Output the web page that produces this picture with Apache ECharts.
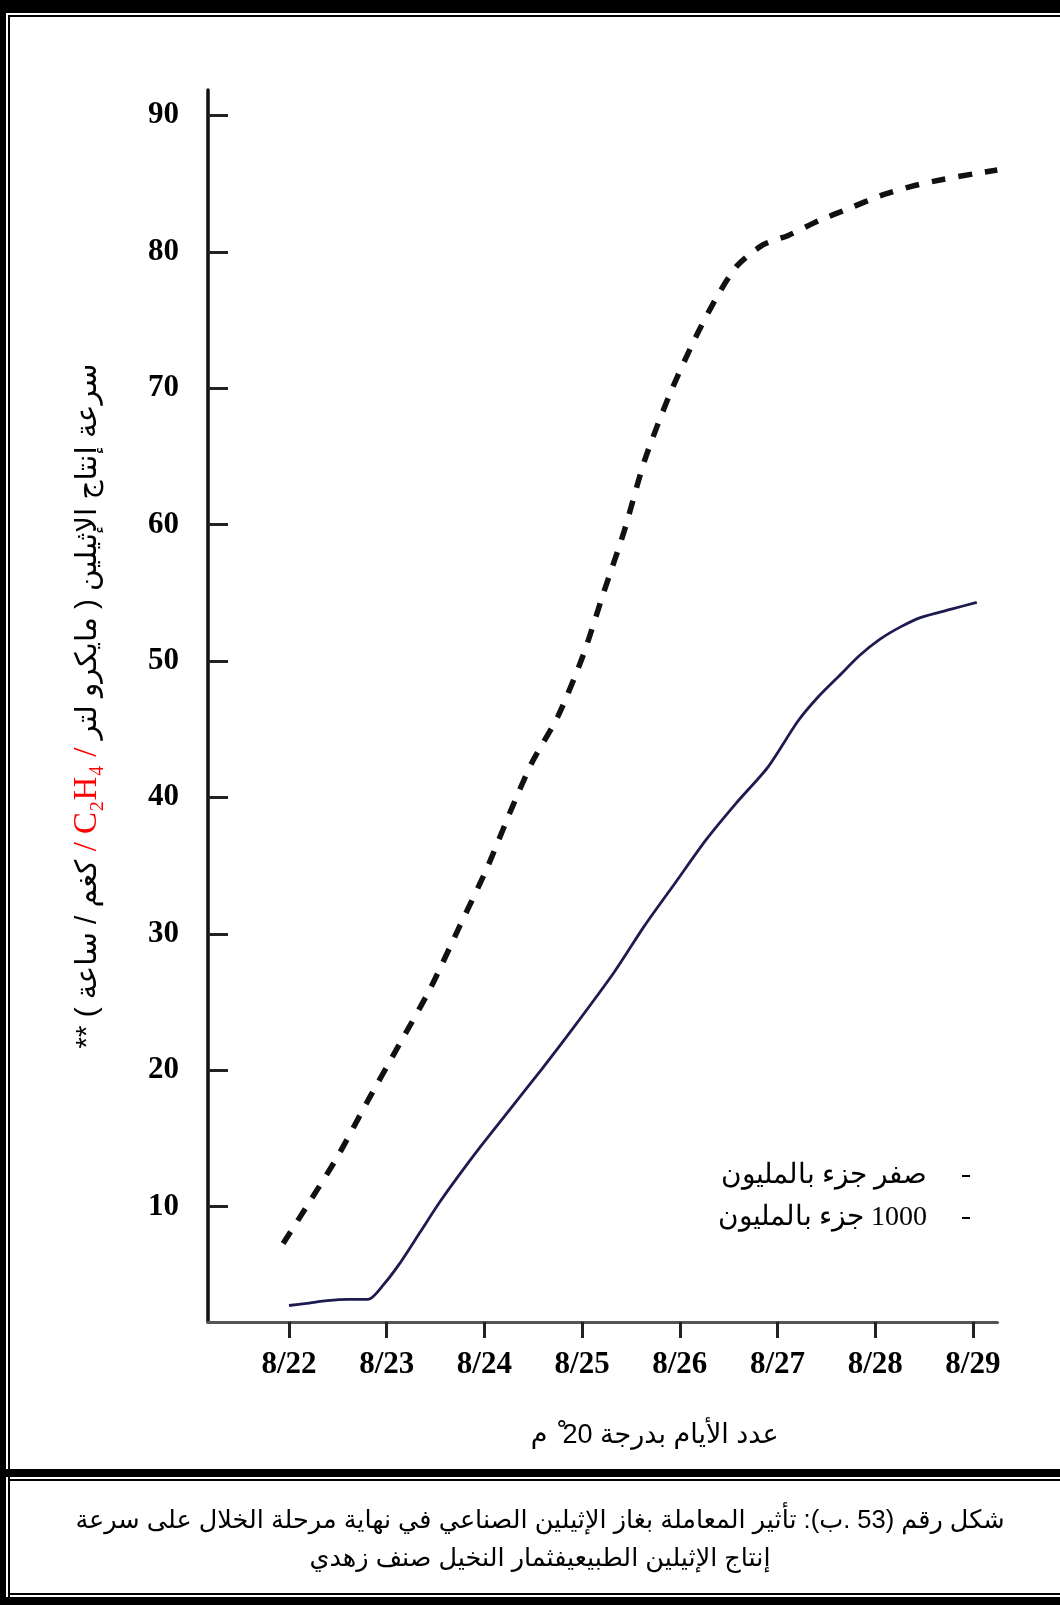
<!DOCTYPE html>
<html>
<head>
<meta charset="utf-8">
<script src="https://cdn.jsdelivr.net/npm/echarts@6/dist/echarts.min.js"></script>
<style>
html,body{margin:0;padding:0;background:#fff;}
#chart{width:1060px;height:1605px;}
</style>
</head>
<body>
<div id="chart"></div>
<script>
// ---- data ----
const xTickDays = [0, 1, 2, 3, 4, 5, 6, 7];
const xTickLabels = ['8/22', '8/23', '8/24', '8/25', '8/26', '8/27', '8/28', '8/29'];
const yTickValues = [10, 20, 30, 40, 50, 60, 70, 80, 90];

// 0 ppm (solid line)
const solidDays = [0.0, 0.18, 0.39, 0.6, 0.81, 0.97, 1.13, 1.34, 1.54, 1.75, 1.96, 2.28, 2.59, 2.91, 3.33, 3.64, 3.96, 4.27, 4.58, 4.9, 5.21, 5.42, 5.63, 5.84, 6.05, 6.26, 6.47, 6.78, 7.04];
const solidValues = [2.75, 2.9, 3.1, 3.2, 3.2, 4.3, 5.8, 8.1, 10.3, 12.4, 14.4, 17.3, 20.1, 23.1, 27.2, 30.6, 33.8, 36.9, 39.6, 42.2, 45.6, 47.4, 48.9, 50.4, 51.6, 52.5, 53.2, 53.8, 54.3];

// 1000 ppm (dashed line)
const dashedDays = [-0.06, 0.18, 0.5, 0.81, 1.13, 1.44, 1.75, 2.02, 2.28, 2.49, 2.75, 3.01, 3.22, 3.43, 3.64, 3.9, 4.16, 4.38, 4.59, 4.85, 5.11, 5.43, 5.74, 6.05, 6.37, 6.69, 7.0, 7.25];
const dashedValues = [7.3, 10.0, 13.7, 17.8, 21.9, 25.9, 30.6, 34.7, 39.2, 42.6, 45.9, 50.4, 55.0, 59.5, 64.7, 69.6, 73.7, 76.7, 79.0, 80.5, 81.2, 82.3, 83.2, 84.1, 84.8, 85.3, 85.7, 86.0];

// ---- text ----
const RLE = '\u202B', PDF = '\u202C';
const seriesNames = ['صفر جزء بالمليون', RLE + '1000 جزء بالمليون' + PDF];
const yNameLeft = RLE + 'كغم / ساعة ) **' + PDF;
const yNameRed = ' / C₂H₄ / ';
const yNameRight = RLE + 'سرعة إنتاج الإثيلين ( مايكرو لتر' + PDF;
const xName = RLE + 'عدد الأيام بدرجة 20 ْ م' + PDF;
const captionLines = [
  RLE + 'شكل رقم (53 .ب): تأثير المعاملة بغاز الإثيلين الصناعي في نهاية مرحلة الخلال على سرعة' + PDF,
  RLE + 'إنتاج الإثيلين الطبيعيفثمار النخيل صنف زهدي' + PDF
];

const arabicFont = "Arial, 'Liberation Sans', 'DejaVu Sans', 'Noto Sans', sans-serif";
const serifFont = "'Times New Roman', 'Liberation Serif', 'DejaVu Serif', serif";

const pairs = (xs, ys) => xs.map((x, i) => [x, ys[i]]);

const chart = echarts.init(document.getElementById('chart'), null, {renderer: 'canvas'});

const option = {
  backgroundColor: '#ffffff',
  animation: false,
  grid: {left: 208, right: 62.5, top: 90, bottom: 283},
  legend: {
    orient: 'vertical',
    right: 85,
    top: 1156,
    align: 'right',
    icon: 'rect',
    itemWidth: 8,
    itemHeight: 2,
    itemGap: 12,
    data: [
      {name: seriesNames[0], itemStyle: {color: '#000'}},
      {name: seriesNames[1], itemStyle: {color: '#000'}}
    ],
    textStyle: {fontSize: 28, fontFamily: serifFont, color: '#000', lineHeight: 30, padding: [0, 30, 0, 0]}
  },
  xAxis: {
    type: 'value',
    min: -0.829,
    max: 7.252,
    name: xName,
    nameLocation: 'middle',
    nameGap: 100,
    nameTextStyle: {fontSize: 27, fontFamily: arabicFont, color: '#000', padding: [0, 0, 0, 104]},
    axisLine: {show: true, onZero: false, lineStyle: {color: '#555', width: 3}},
    axisTick: {show: true, inside: false, length: 16, customValues: xTickDays, lineStyle: {color: '#222', width: 3}},
    axisLabel: {
      customValues: xTickDays,
      margin: 27,
      fontSize: 31,
      fontWeight: 'bold',
      fontFamily: serifFont,
      color: '#000',
      formatter: v => xTickLabels[xTickDays.indexOf(Math.round(v))] || ''
    },
    splitLine: {show: false}
  },
  yAxis: {
    type: 'value',
    min: 1.54,
    max: 91.86,
    name: '{a|' + yNameLeft + '}{r|' + yNameRed + '}{b|' + yNameRight + '}',
    nameLocation: 'middle',
    nameRotate: 90,
    nameGap: 104,
    nameTextStyle: {
      padding: [0, 0, 0, 0],
      rich: {
        a: {fontSize: 29.5, fontFamily: arabicFont, color: '#000'},
        r: {fontSize: 33, fontFamily: serifFont, color: '#ff0000'},
        b: {fontSize: 29.5, fontFamily: arabicFont, color: '#000'}
      }
    },
    axisLine: {show: true, onZero: false, lineStyle: {color: '#111', width: 3.5}},
    axisTick: {show: true, inside: true, length: 20, customValues: yTickValues, lineStyle: {color: '#222', width: 3}},
    axisLabel: {
      customValues: yTickValues,
      margin: 29,
      fontSize: 31,
      fontWeight: 'bold',
      fontFamily: serifFont,
      color: '#000'
    },
    splitLine: {show: false}
  },
  series: [
    {
      name: seriesNames[0],
      type: 'line',
      data: pairs(solidDays, solidValues),
      showSymbol: false,
      smooth: 0.25,
      color: '#1e1b50',
      lineStyle: {color: '#1e1b50', width: 2.8}
    },
    {
      name: seriesNames[1],
      type: 'line',
      data: pairs(dashedDays, dashedValues),
      showSymbol: false,
      smooth: 0.25,
      color: '#111',
      lineStyle: {color: '#111', width: 5.5, type: [14, 13], cap: 'butt'}
    }
  ],
  graphic: [
    {type: 'rect', shape: {x: 0, y: 0, width: 1060, height: 13}, style: {fill: '#000'}, silent: true},
    {type: 'rect', shape: {x: 0, y: 0, width: 6, height: 1605}, style: {fill: '#000'}, silent: true},
    {type: 'rect', shape: {x: 8, y: 15, width: 1052, height: 2}, style: {fill: '#000'}, silent: true},
    {type: 'rect', shape: {x: 8, y: 15, width: 2, height: 1590}, style: {fill: '#000'}, silent: true},
    {type: 'rect', shape: {x: 0, y: 1469, width: 1060, height: 8}, style: {fill: '#000'}, silent: true},
    {type: 'rect', shape: {x: 8, y: 1479, width: 1052, height: 2}, style: {fill: '#000'}, silent: true},
    {type: 'rect', shape: {x: 8, y: 1593, width: 1052, height: 2}, style: {fill: '#000'}, silent: true},
    {type: 'rect', shape: {x: 0, y: 1597, width: 1060, height: 8}, style: {fill: '#000'}, silent: true},
    {type: 'text', x: 540, y: 1521, style: {text: captionLines[0], fill: '#000', font: '25.5px ' + arabicFont, textAlign: 'center', textVerticalAlign: 'middle'}, silent: true},
    {type: 'text', x: 540, y: 1559, style: {text: captionLines[1], fill: '#000', font: '25.5px ' + arabicFont, textAlign: 'center', textVerticalAlign: 'middle'}, silent: true}
  ]
};

chart.setOption(option);
</script>
</body>
</html>
